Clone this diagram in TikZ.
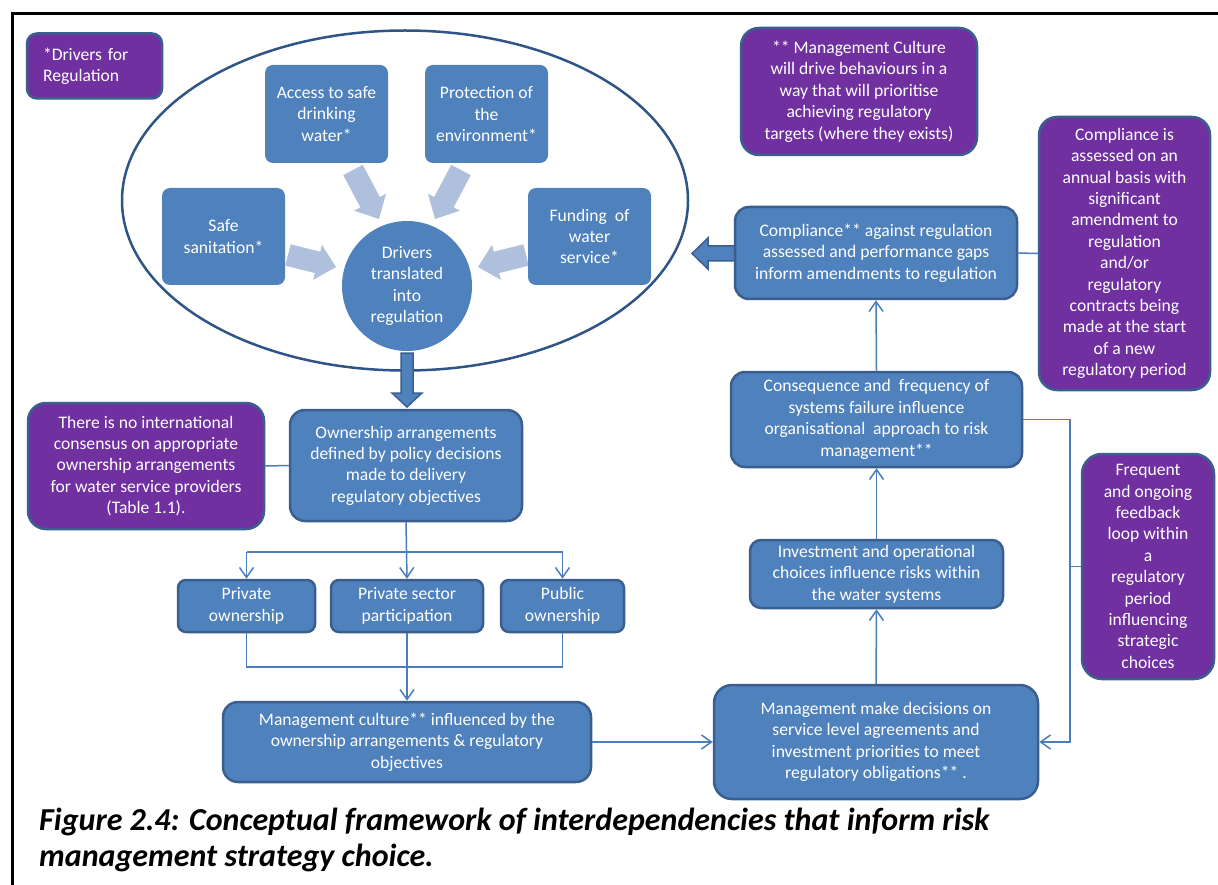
\documentclass[tikz,border=0pt]{standalone}
\usepackage{fontspec}
\setmainfont{Carlito}
\usetikzlibrary{arrows.meta,calc}
\definecolor{boxblue}{HTML}{4F81BD}
\definecolor{boxborder}{HTML}{3A5F8E}
\definecolor{purp}{HTML}{7030A0}
\definecolor{lightarr}{HTML}{AFC0DC}
\definecolor{linecol}{HTML}{4A7EBB}
\definecolor{ellcol}{HTML}{2F5587}
\newcommand\fatarr[2]{%
  \coordinate (hb) at ($(#2)!19pt!(#1)$);
  \fill[lightarr] ($(#1)!11pt!90:(#2)$) -- ($(hb)!11pt!-90:(#1)$) -- ($(hb)!18pt!-90:(#1)$) -- (#2)
     -- ($(hb)!18pt!90:(#1)$) -- ($(hb)!11pt!90:(#1)$) -- ($(#1)!11pt!-90:(#2)$) -- cycle;}
\tikzset{
  txt/.style={font=\fontsize{17.6}{21.4}\selectfont, text=white, align=center},
  innerbox/.style={txt, rectangle, rounded corners=8pt, fill=boxblue, inner sep=0pt},
  bluebox/.style={txt, rectangle, rounded corners=14pt, fill=boxblue, draw=boxborder, line width=2.5pt, inner sep=0pt},
  purpbox/.style={txt, rectangle, rounded corners=18pt, fill=purp, draw=boxborder, line width=2.5pt, inner sep=0pt},
  conn/.style={draw=linecol, line width=1.5pt},
  arr/.style={conn, -{Straight Barb[length=10pt,width=14pt]}},
  shapearrow/.style={fill=boxblue, draw=boxborder, line width=1.5pt, line join=miter},
}
\begin{document}
\begin{tikzpicture}[x=1pt,y=-1pt]
\useasboundingbox (0,0) rectangle (1218,885);
\fill[white] (0,0) rectangle (1218,885);
% frame
\draw[line width=3pt] (12,895) -- (12,14) -- (1230,14);

% ellipse
\draw[ellcol, line width=2.5pt] (405,200.5) ellipse [x radius=283, y radius=170];

% fat light arrows
\coordinate (a1t) at (353,170); \coordinate (a1h) at (379,219);
\coordinate (a2t) at (461,170); \coordinate (a2h) at (435,219);
\coordinate (a3t) at (288,255); \coordinate (a3h) at (336,267);
\coordinate (a4t) at (526,255); \coordinate (a4h) at (478,267);
\fatarr{a1t}{a1h}
\fatarr{a2t}{a2h}
\fatarr{a3t}{a3h}
\fatarr{a4t}{a4h}

% dark arrows
\draw[shapearrow] (401,353) -- (413,353) -- (413,393) -- (422,393) -- (407,407) -- (392,393) -- (401,393) -- cycle;
\draw[shapearrow] (740,246) -- (708,246) -- (708,238) -- (692,253.5) -- (708,269) -- (708,261) -- (740,261) -- cycle;

% inner boxes
\node[innerbox, minimum width=123pt, minimum height=98pt] (acc) at (326.5,114) {Access to safe\\drinking\\water*};
\node[innerbox, minimum width=123pt, minimum height=98pt] (prot) at (486.5,114) {Protection of\\the\\environment*};
\node[innerbox, minimum width=123pt, minimum height=97pt] (safe) at (223.5,236.5) {Safe\\sanitation*};
\node[innerbox, minimum width=123pt, minimum height=97pt] (fund) at (589.5,236.5) {Funding~ of\\water\\service*};
\node[txt, circle, fill=boxblue, minimum size=130pt, inner sep=0pt] (circ) at (407,286) {Drivers\\translated\\into\\regulation};

% purple notes
\node[purpbox, rounded corners=10pt, minimum width=135pt, minimum height=65pt, text width=103pt, align=left, inner xsep=16pt] (drv) at (94.5,66) {*Drivers for\\Regulation};
\node[purpbox, minimum width=236pt, minimum height=127pt] (mcult) at (859,91.5) {** Management Culture\\will drive behaviours in a\\way that will prioritise\\achieving regulatory\\targets (where they exists)};
\node[purpbox, minimum width=171pt, minimum height=273pt] (compis) at (1124.5,253.5) {Compliance is\\assessed on an\\annual basis with\\significant\\amendment to\\regulation\\and/or\\regulatory\\contracts being\\made at the start\\of a new\\regulatory period};
\node[purpbox, rounded corners=20pt, minimum width=132pt, minimum height=225pt] (freq) at (1148,566.5) {Frequent\\and ongoing\\feedback\\loop within\\a\\regulatory\\period\\influencing\\strategic\\choices};
\node[purpbox, minimum width=236pt, minimum height=126pt] (nointl) at (146,466) {There is no international\\consensus on appropriate\\ownership arrangements\\for water service providers\\(Table 1.1).};

% flow boxes
\node[bluebox, minimum width=282pt, minimum height=92pt] (comp) at (876,253) {Compliance** against regulation\\assessed and performance gaps\\inform amendments to regulation};
\node[bluebox, minimum width=291pt, minimum height=95pt] (cons) at (876.5,419.5) {Consequence and~ frequency of\\systems failure influence\\organisational~ approach to risk\\management**};
\node[bluebox, rounded corners=11pt, minimum width=253pt, minimum height=68pt] (inv) at (876.5,574) {Investment and operational\\choices influence risks within\\the water systems};
\node[bluebox, rounded corners=18pt, minimum width=324pt, minimum height=114pt] (mmake) at (876,742) {Management make decisions on\\service level agreements and\\investment priorities to meet\\regulatory obligations** .};
\node[bluebox, rounded corners=15pt, minimum width=232pt, minimum height=111pt] (own) at (406,465.5) {Ownership arrangements\\defined by policy decisions\\made to delivery\\regulatory objectives};
\node[bluebox, rounded corners=8pt, minimum width=137pt, minimum height=52pt] (priv) at (246.5,606) {Private\\ownership};
\node[bluebox, rounded corners=8pt, minimum width=152pt, minimum height=52pt] (sect) at (407,606) {Private sector\\participation};
\node[bluebox, rounded corners=8pt, minimum width=123pt, minimum height=52pt] (pub) at (562.5,606) {Public\\ownership};
\node[bluebox, rounded corners=15pt, minimum width=368pt, minimum height=80pt] (mgc) at (407,742) {Management culture** influenced by the\\ownership arrangements \& regulatory\\objectives};

% connectors
\coordinate (busT) at (407,552);
\coordinate (busB) at (407,667);
\coordinate (fbx) at (1070,600);
\draw[conn] (nointl.east) -- (own.west);
\draw[arr] (own.south) -- (sect.north);
\draw[conn] (priv.north |- busT) -- (pub.north |- busT);
\draw[arr] (priv.north |- busT) -- (priv.north);
\draw[arr] (pub.north |- busT) -- (pub.north);
\draw[conn] (priv.south) -- (priv.south |- busB) -- (pub.south |- busB) -- (pub.south);
\draw[arr] (sect.south) -- (mgc.north);
\draw[arr] (mgc.east) -- (mmake.west);
\draw[arr] (mmake.north) -- (inv.south);
\draw[arr] (inv.north) -- (cons.south);
\draw[arr] (cons.north) -- (comp.south);
\draw[conn] (comp.east) -- (compis.west);
\draw[arr] (cons.east) -- (cons.east -| fbx) -- (fbx |- mmake.east) -- (mmake.east);
\draw[conn] (fbx |- freq.west) -- (freq.west);

% caption
\node[anchor=west, inner sep=0pt, align=left, font=\fontsize{32}{36}\selectfont\bfseries\itshape] (cap) at (39,840) {Figure 2.4: Conceptual framework of interdependencies that inform risk\\management strategy choice.};
\end{tikzpicture}
\end{document}
